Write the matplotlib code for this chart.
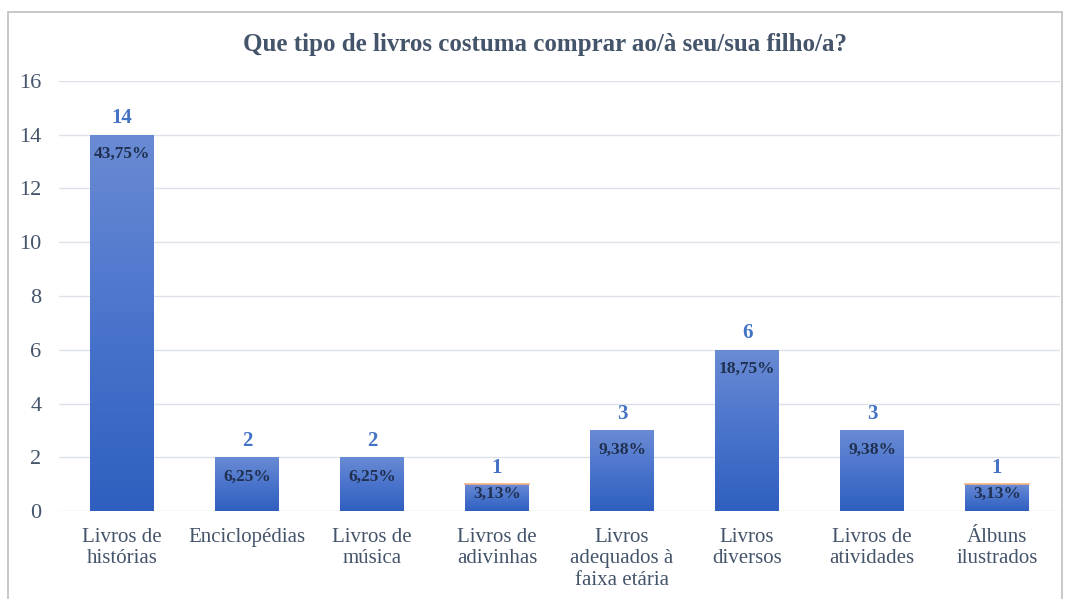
import numpy as np
import matplotlib.pyplot as plt
from matplotlib.patches import Rectangle
from matplotlib.colors import LinearSegmentedColormap

categories = ['Livros de\nhistórias', 'Enciclopédias', 'Livros de\nmúsica', 'Livros de\nadivinhas',
              'Livros\nadequados à\nfaixa etária', 'Livros\ndiversos', 'Livros de\natividades', 'Álbuns\nilustrados']
counts = [14, 2, 2, 1, 3, 6, 3, 1]
percents = ['43,75%', '6,25%', '6,25%', '3,13%', '9,38%', '18,75%', '9,38%', '3,13%']
yticks = [0, 2, 4, 6, 8, 10, 12, 14, 16]

plt.rcParams['font.family'] = ['Liberation Serif', 'DejaVu Serif']

fig = plt.figure(figsize=(10.7, 5.99), dpi=100)
ax = fig.add_axes([0.0556, 0.1469, 0.9346, 0.7179])

# outer chart border
fig.patches.append(Rectangle((8 / 1070, -0.01), 1054 / 1070, 1 - 12 / 599 + 0.01,
                             transform=fig.transFigure, fill=False, edgecolor='#bfbfbf', lw=1.2))

cmap = LinearSegmentedColormap.from_list('bar', ['#2f5fbf', '#4a74cc', '#6a8bd4'])
grad = np.linspace(0, 1, 256).reshape(-1, 1)
x = np.arange(len(categories))
width = 0.51

bars = ax.bar(x, counts, width=width, color='none', zorder=2)
for b in bars:
    im = ax.imshow(grad, aspect='auto', cmap=cmap, origin='lower',
                   extent=[b.get_x(), b.get_x() + b.get_width(), 0, b.get_height()], zorder=2)
    im.set_clip_path(b)

for xi, c, p in zip(x, counts, percents):
    if c == 1:
        ax.plot([xi - width / 2, xi + width / 2], [c, c], color='#f4b183', lw=1.2, zorder=3)
    ax.text(xi, c + 0.24, str(c), ha='center', va='bottom', color='#4472c4',
            fontsize=15, fontweight='bold')
    # small bars: label sits up against the bar top like excel does
    py = c - 0.72 if c > 1 else c - 0.37
    ax.text(xi, py, p, ha='center', va='center', color='#1f3050',
            fontsize=12.5, fontweight='bold', zorder=4)

ax.set_xlim(-0.5, len(categories) - 0.5)
ax.set_ylim(0, 16)
ax.set_yticks(yticks)
ax.set_xticks(x)
ax.set_xticklabels(categories, fontsize=15, color='#44546a', linespacing=1.2)
ax.tick_params(axis='y', labelsize=16, labelcolor='#44546a', length=0, pad=13)
ax.tick_params(axis='x', length=0, pad=12)
ax.grid(axis='y', color='#dde2ea', lw=1, zorder=0)
ax.set_axisbelow(True)
for s in ax.spines.values():
    s.set_visible(False)

fig.text(545 / 1070, 1 - 45 / 599, 'Que tipo de livros costuma comprar ao/à seu/sua filho/a?',
         ha='center', va='center', fontsize=18, fontweight='bold', color='#44546a')

fig.savefig('out.png', dpi=100)
